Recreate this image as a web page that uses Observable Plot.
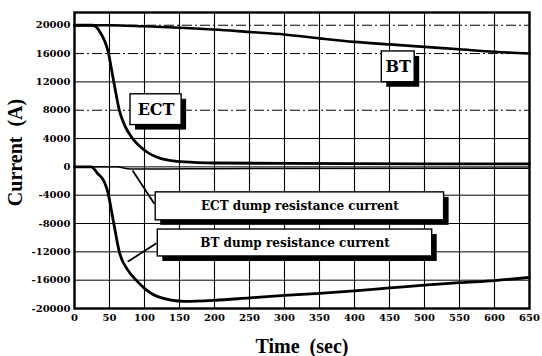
<!DOCTYPE html>
<html>
<head>
<meta charset="utf-8">
<script src="https://cdn.jsdelivr.net/npm/d3@7"></script>
<script src="https://cdn.jsdelivr.net/npm/@observablehq/plot@0.6"></script>
<style>
  html, body { margin: 0; padding: 0; background: #fff; }
  #chart svg { display: block; }
</style>
</head>
<body>
<div id="chart"></div>
<script>
// Coil currents after a quench / dump (time in seconds, current in amperes)
const xTicks = [0, 50, 100, 150, 200, 250, 300, 350, 400, 450, 500, 550, 600, 650];
const yTicks = [-20000, -16000, -12000, -8000, -4000, 0, 4000, 8000, 12000, 16000, 20000];

const btTime    = [0, 50, 100, 150, 200, 250, 300, 350, 400, 450, 500, 550, 600, 650];
const btCurrent = [20000, 20000, 19850, 19650, 19400, 19050, 18700, 18150, 17650, 17300, 16950, 16600, 16250, 16000];

const ectTime    = [0, 25, 30, 36, 43, 48, 53, 58, 64, 71.5, 83, 100, 124, 157, 200, 300, 650];
const ectCurrent = [20000, 20000, 19850, 19100, 17800, 16300, 13700, 11000, 8000, 5900, 4000, 2350, 1170, 700, 550, 480, 420];

const btDumpTime    = [0, 24, 33, 43, 48, 53, 58, 64, 76, 88, 100, 119, 157, 200, 250, 300, 350, 400, 450, 500, 550, 600, 650];
const btDumpCurrent = [0, 0, -940, -2200, -3700, -6300, -9000, -12000, -14550, -16000, -17150, -18330, -19000, -18850, -18500, -18150, -17850, -17500, -17100, -16700, -16350, -16050, -15600];

const ectDumpTime    = [0, 60, 80, 120, 200, 650];
const ectDumpCurrent = [0, 0, -300, -300, -250, -200];

// Annotation labels, anchored in data coordinates
const labelText = ["ECT", "BT", "ECT dump resistance current", "BT dump resistance current"];
const labelX1 = [80, 439, 116, 119];
const labelX2 = [153, 486, 528, 511];
const labelY1 = [5900, 11950, -7550, -12650];
const labelY2 = [10250, 16300, -3600, -8850];
const labelSize = [16, 16, 12, 12];

// Leader lines from the dump labels to their curves
const leaderX1 = [114, 117];
const leaderY1 = [-5200, -10800];
const leaderX2 = [83, 76];
const leaderY2 = [-500, -13400];

const series = (t, v) => t.map((x, i) => ({x, y: v[i]}));
const bt = series(btTime, btCurrent);
const ect = series(ectTime, ectCurrent);
const btDump = series(btDumpTime, btDumpCurrent);
const ectDump = series(ectDumpTime, ectDumpCurrent);

const labels = labelText.map((text, i) => ({
  text, x1: labelX1[i], x2: labelX2[i], y1: labelY1[i], y2: labelY2[i],
  cx: (labelX1[i] + labelX2[i]) / 2, cy: (labelY1[i] + labelY2[i]) / 2, size: labelSize[i]
}));
const leaders = leaderX1.map((x1, i) => ({x1, y1: leaderY1[i], x2: leaderX2[i], y2: leaderY2[i]}));

const dashedLevels = new Set([20000, 16000, 8000]);
const serif = "'DejaVu Serif', 'Liberation Serif', serif";
const titleSerif = "'Liberation Serif', 'DejaVu Serif', serif";

const chart = Plot.plot({
  width: 542,
  height: 356,
  marginLeft: 74,
  marginRight: 13,
  marginTop: 12,
  marginBottom: 48,
  style: {fontFamily: serif, fontWeight: "bold", fontSize: "10px", color: "#000", background: "#fff"},
  x: {domain: [0, 650], ticks: xTicks, tickSize: 0, tickPadding: 5, tickFormat: d => String(d), label: null},
  y: {domain: [-20000, 21800], ticks: yTicks, tickSize: 0, tickPadding: 4, tickFormat: d => String(d), label: null},
  marks: [
    Plot.ruleX(xTicks, {stroke: "#000", strokeWidth: 1.1}),
    Plot.ruleY(yTicks.filter(v => !dashedLevels.has(v)), {stroke: "#000", strokeWidth: 1}),
    Plot.ruleY(yTicks.filter(v => dashedLevels.has(v)), {stroke: "#000", strokeWidth: 1, strokeDasharray: "10,3,2,3"}),
    Plot.line(ectDump, {x: "x", y: "y", stroke: "#000", strokeWidth: 1.5, curve: "monotone-x"}),
    Plot.line(bt, {x: "x", y: "y", stroke: "#000", strokeWidth: 2.6, curve: "monotone-x"}),
    Plot.line(ect, {x: "x", y: "y", stroke: "#000", strokeWidth: 2.8, curve: "monotone-x"}),
    Plot.line(btDump, {x: "x", y: "y", stroke: "#000", strokeWidth: 2.8, curve: "monotone-x"}),
    Plot.link(leaders, {x1: "x1", y1: "y1", x2: "x2", y2: "y2", stroke: "#000", strokeWidth: 1.8}),
    Plot.rect(labels, {x1: "x1", x2: "x2", y1: "y1", y2: "y2", fill: "#000", dx: 5, dy: 5}),
    Plot.rect(labels, {x1: "x1", x2: "x2", y1: "y1", y2: "y2", fill: "#fff", stroke: "#000", strokeWidth: 1.4}),
    Plot.text(labels, {x: "cx", y: "cy", text: "text", fontSize: d => d.size, fontFamily: serif, fontWeight: "bold", fill: "#000"}),
    Plot.text(["Time\u00a0 (sec)"], {frameAnchor: "bottom", lineAnchor: "middle", textAnchor: "middle", dy: 38, text: d => d, fontSize: 20, fontFamily: titleSerif, fontWeight: "bold", fill: "#000"}),
    Plot.text(["Current\u00a0 (A)"], {frameAnchor: "left", lineAnchor: "middle", textAnchor: "middle", dx: -59, dy: -8, rotate: -90, text: d => d, fontSize: 20, fontFamily: titleSerif, fontWeight: "bold", fill: "#000"}),
    Plot.frame({stroke: "#000", strokeWidth: 2.4})
  ]
});

document.getElementById("chart").appendChild(chart);
</script>
</body>
</html>
